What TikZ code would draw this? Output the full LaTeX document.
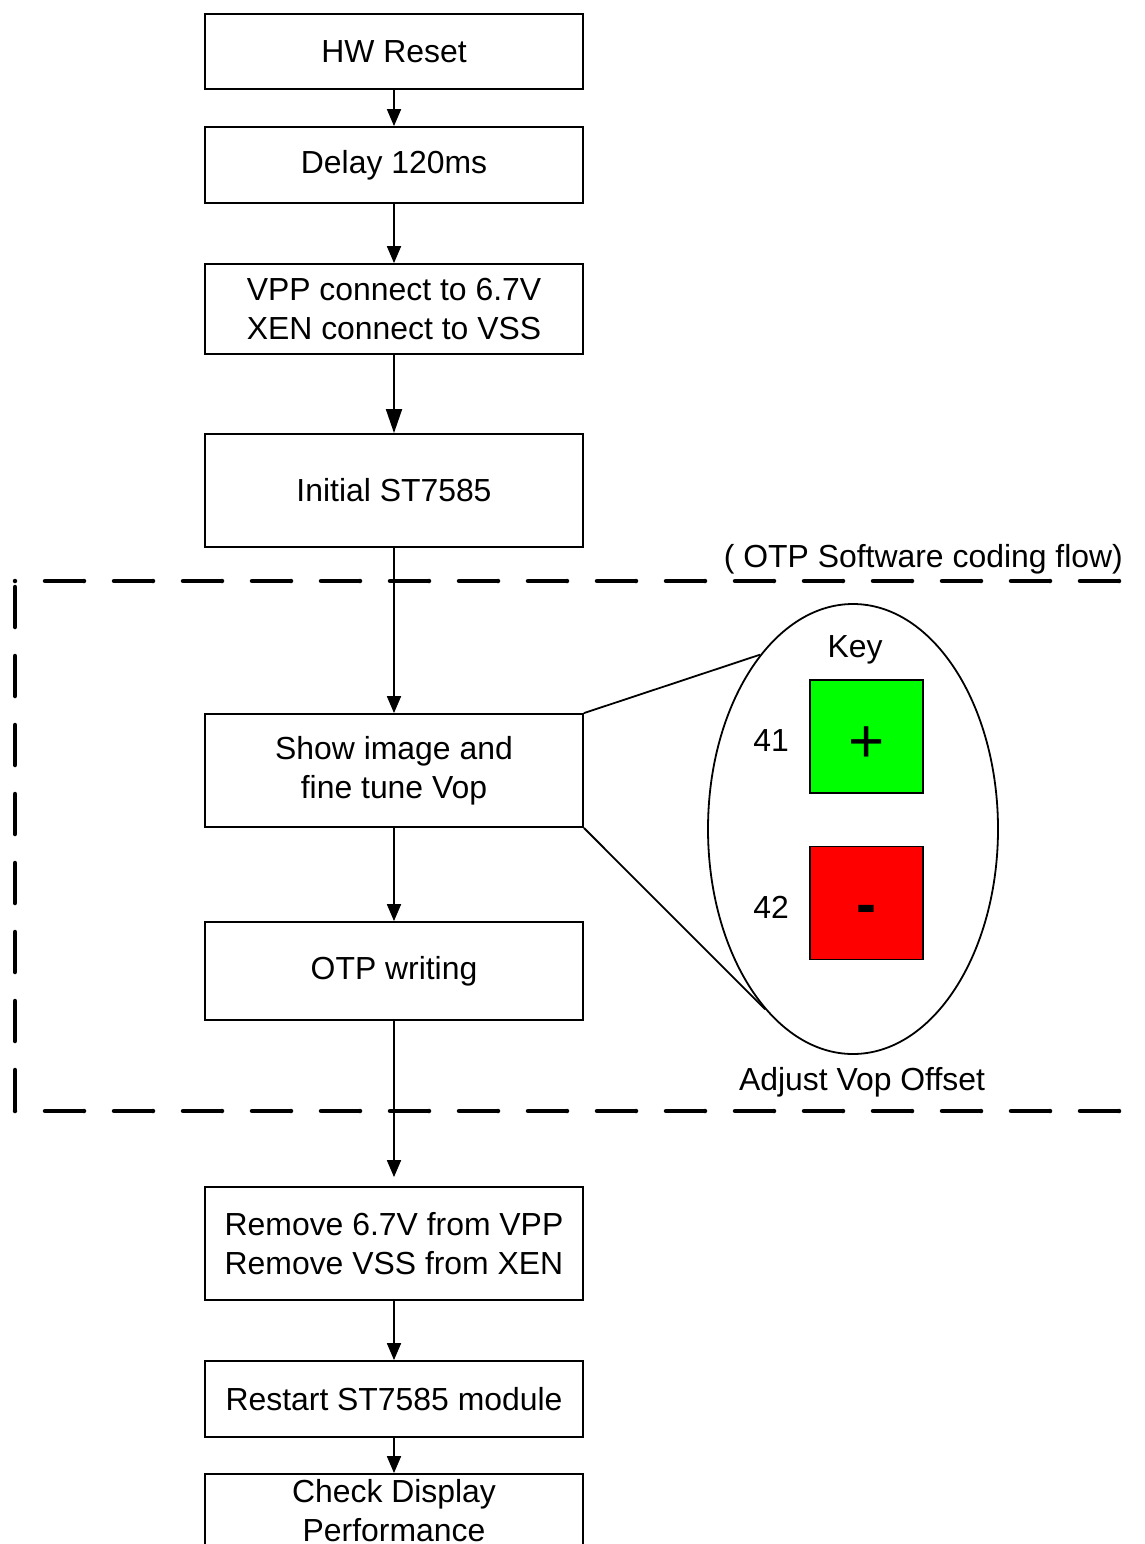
\documentclass[tikz,border=0pt]{standalone}
\usepackage{fontspec}
\setmainfont{Liberation Sans}
\usetikzlibrary{arrows.meta,shapes.geometric}
\definecolor{keygreen}{RGB}{0,255,0}
\definecolor{keyred}{RGB}{255,0,0}
\begin{document}
\begin{tikzpicture}[x=1pt,y=-1pt,
  txt/.style={font=\fontsize{31.9}{39}\selectfont,inner sep=0pt,align=center},
  box/.style={txt,draw,line width=1.8pt,minimum width=378pt},
  arr/.style={line width=1.8pt,-{Triangle[length=17pt,width=14pt]}},
  bigarr/.style={line width=1.8pt,-{Triangle[length=24pt,width=16pt]}},
  thin/.style={line width=1.8pt},
  dashline/.style={line width=4.5pt,line cap=round},
  keybox/.style={draw,line width=1.8pt,minimum width=113pt,minimum height=113pt,inner sep=0pt}]
\clip (0,0) rectangle (1144,1544);
\fill[white] (0,0) rectangle (1144,1544);

% flow boxes
\node[box,minimum height=75pt]  (hw)      at (394,51.5)  {HW Reset};
\node[box,minimum height=76pt]  (delay)   at (394,165)   {Delay 120ms};
\node[box,minimum height=90pt]  (vpp)     at (394,309)   {VPP connect to 6.7V\\XEN connect to VSS};
\node[box,minimum height=113pt] (init)    at (394,490.5) {Initial ST7585};
\node[box,minimum height=113pt] (show)    at (394,770.5) {Show image and\\fine tune Vop};
\node[box,minimum height=98pt]  (otp)     at (394,971)   {OTP writing};
\node[box,minimum height=113pt] (remove)  at (394,1243.5){Remove 6.7V from VPP\\Remove VSS from XEN};
\node[box,minimum height=76pt]  (restart) at (394,1399)  {Restart ST7585 module};
\node[box,minimum height=113pt] (check)   at (394,1530.5){};
\node[txt] (checktxt) at (394,1511) {Check Display\\Performance};

% arrows
\draw[arr] (hw) -- (delay);
\draw[arr] (delay) -- (vpp);
\draw[bigarr] (vpp) -- (init);
\draw[arr] (init) -- (show);
\draw[arr] (show) -- (otp);
\draw[arr,shorten >=9pt] (otp) -- (remove);
\draw[arr] (remove) -- (restart);
\draw[arr] (restart) -- (check);

% dashed region
\draw[dashline,dash pattern=on 0pt off 30pt on 39pt off 0pt] (15,581) -- (1170,581);
\draw[dashline,dash pattern=on 0pt off 30pt on 39pt off 0pt] (15,1111) -- (1170,1111);
\draw[dashline,dash pattern=on 40pt off 29pt] (15,587) -- (15,1111);
\node[txt,anchor=east] (region) at (1123,559) {( OTP Software coding flow)};

% lens / key
\node[draw,ellipse,line width=1.8pt,minimum width=290pt,minimum height=450pt,inner sep=0pt] (lens) at (853,829) {};
\draw[thin] (show.north east) -- (lens.118);
\draw[thin] (show.south east) -- (lens.244);
\node[txt] (key) at (855,650) {Key};
\node[keybox,fill=keygreen] (plusbox) at (866.5,736.5) {};
\node[keybox,fill=keyred] (minusbox) at (866.5,903) {};
\node[font=\fontsize{62}{62}\selectfont,inner sep=0pt] (plus) at (866.5,745) {+};
\node[font=\bfseries\fontsize{60}{60}\selectfont,inner sep=0pt] (minus) at (866.5,915) {-};
\node[txt] (n41) at (771,741) {41};
\node[txt] (n42) at (771,907) {42};
\node[txt] (adjust) at (862,1082) {Adjust Vop Offset};
\end{tikzpicture}
\end{document}
